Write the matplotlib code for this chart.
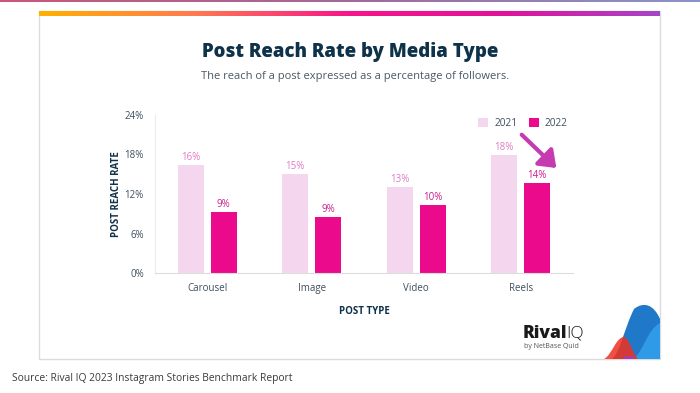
import numpy as np
import matplotlib.pyplot as plt
from matplotlib.patches import Rectangle, FancyArrowPatch, PathPatch
from matplotlib.path import Path
from matplotlib.colors import LinearSegmentedColormap

categories = ["Carousel", "Image", "Video", "Reels"]
reach_2021 = [16.4, 15.0, 13.1, 17.9]
reach_2022 = [9.3, 8.5, 10.3, 13.7]
labels_2021 = ["16%", "15%", "13%", "18%"]
labels_2022 = ["9%", "9%", "10%", "14%"]
yticks = [0, 6, 12, 18, 24]

NAVY = "#0e3249"
TICK = "#3d4f5f"
C2021 = "#f4d7ee"
C2022 = "#ec0a8c"

plt.rcParams["font.family"] = ["Open Sans", "DejaVu Sans"]

fig = plt.figure(figsize=(7, 3.93), dpi=100)
W, H = 700, 393


def fx(px):
    return px / W


def fy(py):
    return 1 - py / H


# thin top strip of the page
top = fig.add_axes([0, fy(2), 1, 2 / H])
top.imshow(np.linspace(0, 1, 256)[None, :], aspect="auto",
           cmap=LinearSegmentedColormap.from_list("t", ["#c9577a", "#a06a9a", "#8a94c8"]))
top.axis("off")

# card (drawn under the axes)
fig.patches.append(Rectangle((fx(39), fy(359)), fx(660) - fx(39), fy(11) - fy(359),
                             transform=fig.transFigure, facecolor="white",
                             edgecolor="#dcdcdc", linewidth=1, zorder=-1))
band = fig.add_axes([fx(39), fy(16.5), fx(660) - fx(39), 5.5 / H])
band.imshow(np.linspace(0, 1, 256)[None, :], aspect="auto",
            cmap=LinearSegmentedColormap.from_list(
                "b", ["#ffb000", "#ff7a50", "#f7158a", "#e0129a", "#a645c8"]))
band.axis("off")

fig.text(0.5, fy(52), "Post Reach Rate by Media Type", ha="center", va="center",
         fontsize=13.4, fontweight="heavy", color=NAVY)
fig.text(fx(355), fy(77), "The reach of a post expressed as a percentage of followers.",
         ha="center", va="center", fontsize=8.0, color="#4a5866")

ax = fig.add_axes([fx(155), fy(273), fx(573) - fx(155), fy(115) - fy(273)])
ax.patch.set_alpha(0)
x = np.arange(len(categories))
off, bw = 0.158, 0.25
b1 = ax.bar(x - off, reach_2021, bw, color=C2021, label="2021", zorder=2)
b2 = ax.bar(x + off, reach_2022, bw, color=C2022, label="2022", zorder=2)
for rect, lab in zip(b1, labels_2021):
    ax.text(rect.get_x() + rect.get_width() / 2, rect.get_height() + 0.3, lab,
            ha="center", va="bottom", fontsize=7, color="#e27ac6")
for rect, lab in zip(b2, labels_2022):
    ax.text(rect.get_x() + rect.get_width() / 2, rect.get_height() + 0.3, lab,
            ha="center", va="bottom", fontsize=7, color="#c8208f")

ax.set_xlim(-0.5, 3.5)
ax.set_ylim(0, 24)
ax.set_yticks(yticks)
ax.set_yticklabels([f"{t}%" for t in yticks])
ax.set_xticks(x)
ax.set_xticklabels(categories)
ax.tick_params(axis="y", length=0, pad=8, labelsize=7, labelcolor=TICK)
ax.tick_params(axis="x", length=0, pad=7, labelsize=7, labelcolor=TICK)
for s in ["top", "right"]:
    ax.spines[s].set_visible(False)
ax.spines["left"].set_color("#ececec")
ax.spines["bottom"].set_color("#dddddd")
ax.set_ylabel("POST REACH RATE", fontsize=7, fontweight="bold", color=NAVY, labelpad=2)
ax.set_xlabel("POST TYPE", fontsize=7, fontweight="bold", color=NAVY, labelpad=9)

ax.legend(loc="upper right", bbox_to_anchor=(1.01, 1.04), ncol=2, frameon=False,
          fontsize=7.3, labelcolor=TICK, handlelength=1.0, handleheight=1.0,
          columnspacing=1.1, handletextpad=0.6)

ax.add_patch(FancyArrowPatch((2.99, 21.3), (3.36, 15.65),
                             arrowstyle="-|>,head_length=6,head_width=4.5",
                             color="#c53bb0", linewidth=3, mutation_scale=1.6,
                             clip_on=False, zorder=5))

# logo
fig.text(fx(523), fy(333), "Rival", fontsize=12.5, fontweight="heavy", color="#1a1a1a",
         va="center", ha="left")
fig.text(fx(566), fy(333), "IQ", fontsize=12.5, fontweight="light", color="#1a1a1a",
         va="center", ha="left")
fig.text(fx(524), fy(347), "by NetBase Quid", fontsize=5, color="#555555",
         va="center", ha="left")

lax = fig.add_axes([fx(604), fy(359), fx(660) - fx(604), (359 - 305) / H])
lax.set_xlim(0, 56)
lax.set_ylim(0, 54)
lax.axis("off")
blue = Path([(8, 0), (16, 6), (20, 30), (30, 50), (40, 58), (50, 54), (56, 40), (56, 0), (8, 0)],
            [Path.MOVETO, Path.CURVE4, Path.CURVE4, Path.CURVE4, Path.CURVE4, Path.CURVE4,
             Path.LINETO, Path.LINETO, Path.CLOSEPOLY])
lax.add_patch(PathPatch(blue, facecolor="#1f78c8", edgecolor="none"))
light = Path([(30, 0), (40, 10), (44, 30), (56, 36), (56, 0), (30, 0)],
             [Path.MOVETO, Path.CURVE4, Path.CURVE4, Path.CURVE4, Path.LINETO, Path.CLOSEPOLY])
lax.add_patch(PathPatch(light, facecolor="#2f9be8", edgecolor="none"))
red = Path([(0, 0), (8, 4), (12, 22), (20, 22), (26, 20), (28, 6), (34, 0), (0, 0)],
           [Path.MOVETO, Path.CURVE4, Path.CURVE4, Path.CURVE4, Path.CURVE4, Path.CURVE4,
            Path.CURVE4, Path.CLOSEPOLY])
lax.add_patch(PathPatch(red, facecolor="#f2301e", edgecolor="none", alpha=0.85))
lax.add_patch(Rectangle((20, 0), 10, 3, facecolor="#b03aa0", edgecolor="none"))

fig.text(fx(12), fy(378), "Source: Rival IQ 2023 Instagram Stories Benchmark Report",
         fontsize=7.35, color="#3a3a3a", va="center", ha="left")

fig.savefig("out.png", dpi=100)
